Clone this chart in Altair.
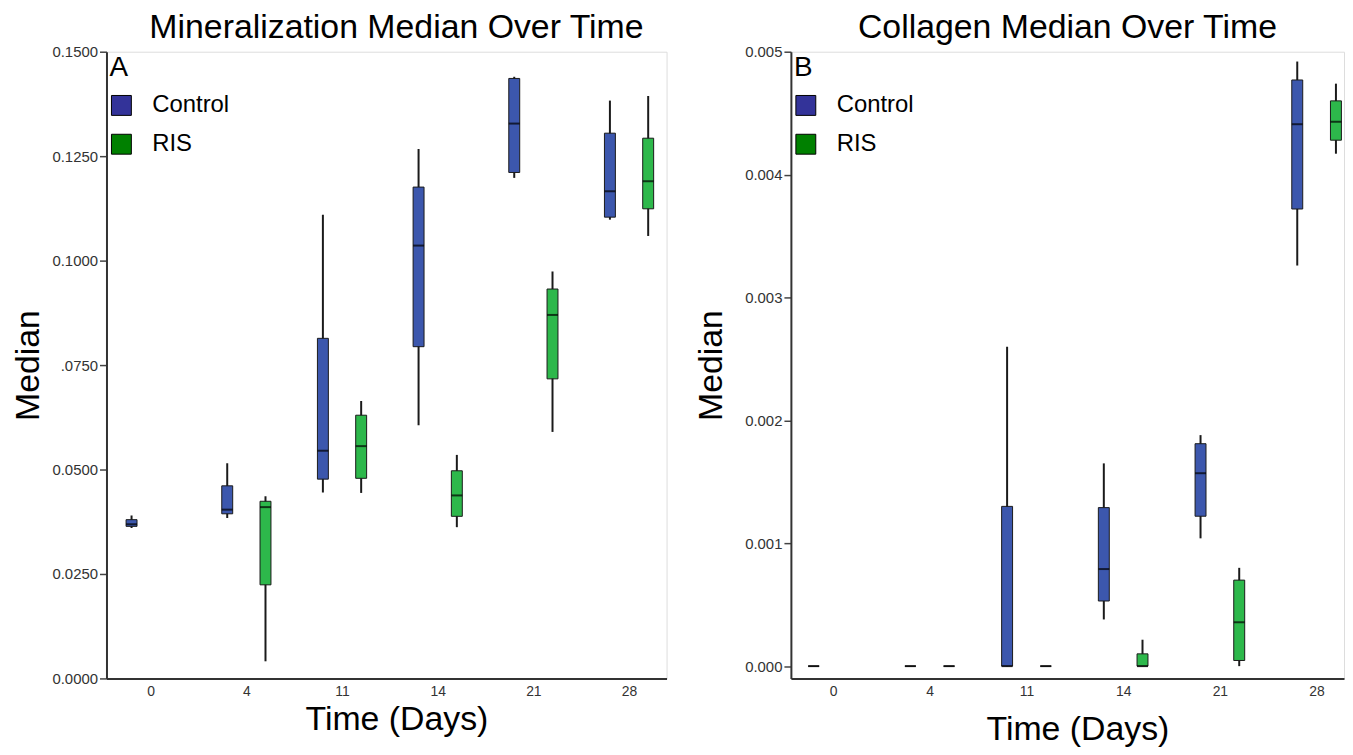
import altair as alt
import pandas as pd

DAYS = ["0", "4", "11", "14", "21", "28"]
GROUPS = ["Control", "RIS"]
BOX_COLORS = ["#3c57ad", "#2db84b"]
LEGEND_COLORS = ["#333399", "#008000"]
FONT = "Liberation Sans"

# ---- Panel A: Mineralization (min, q1, median, q3, max) ----
MIN_CTRL_DAYS = ["0", "4", "11", "14", "21", "28"]
min_ctrl_lo = [0.0360, 0.0384, 0.0445, 0.0606, 0.1198, 0.1098]
min_ctrl_q1 = [0.0364, 0.0394, 0.0477, 0.0794, 0.1211, 0.1104]
min_ctrl_med = [0.0369, 0.0404, 0.0545, 0.1036, 0.1328, 0.1166]
min_ctrl_q3 = [0.0380, 0.0461, 0.0814, 0.1176, 0.1436, 0.1305]
min_ctrl_hi = [0.0390, 0.0515, 0.1110, 0.1267, 0.1440, 0.1383]

MIN_RIS_DAYS = ["4", "11", "14", "21", "28"]
min_ris_lo = [0.0041, 0.0444, 0.0362, 0.0590, 0.1059]
min_ris_q1 = [0.0224, 0.0479, 0.0388, 0.0717, 0.1124]
min_ris_med = [0.0410, 0.0556, 0.0438, 0.0870, 0.1190]
min_ris_q3 = [0.0424, 0.0630, 0.0497, 0.0932, 0.1293]
min_ris_hi = [0.0436, 0.0664, 0.0535, 0.0974, 0.1394]

# ---- Panel B: Collagen ----
COL_CTRL_DAYS = ["0", "4", "11", "14", "21", "28"]
col_ctrl_lo = [0.0, 0.0, 0.0, 0.00038, 0.00104, 0.00326]
col_ctrl_q1 = [0.0, 0.0, 0.0, 0.00053, 0.00122, 0.00372]
col_ctrl_med = [0.0, 0.0, 0.0, 0.00079, 0.00157, 0.00441]
col_ctrl_q3 = [0.0, 0.0, 0.0013, 0.00129, 0.00181, 0.00477]
col_ctrl_hi = [0.0, 0.0, 0.0026, 0.00165, 0.00188, 0.00492]

COL_RIS_DAYS = ["4", "11", "14", "21", "28"]
col_ris_lo = [0.0, 0.0, 0.0, 0.0, 0.00417]
col_ris_q1 = [0.0, 0.0, 0.0, 0.000046, 0.00428]
col_ris_med = [0.0, 0.0, 0.0, 0.000357, 0.00443]
col_ris_q3 = [0.0, 0.0, 0.0001, 0.0007, 0.00460]
col_ris_hi = [0.0, 0.0, 0.000215, 0.0008, 0.00474]

MIN_Y_VALUES = [0.0, 0.025, 0.05, 0.075, 0.1, 0.125, 0.15]
MIN_Y_LABELS = ["0.0000", "0.0250", "0.0500", ".0750", "0.1000", "0.1250", "0.1500"]
COL_Y_VALUES = [0.0, 0.001, 0.002, 0.003, 0.004, 0.005]
COL_Y_LABELS = ["0.000", "0.001", "0.002", "0.003", "0.004", "0.005"]


def build(series):
    rows = []
    for group, days, lo, q1, med, q3, hi in series:
        for i, d in enumerate(days):
            rows.append(dict(day=d, idx=DAYS.index(d), group=group,
                             lo=lo[i], q1=q1[i], med=med[i], q3=q3[i], hi=hi[i]))
    return pd.DataFrame(rows)


df_min = build([
    ("Control", MIN_CTRL_DAYS, min_ctrl_lo, min_ctrl_q1, min_ctrl_med, min_ctrl_q3, min_ctrl_hi),
    ("RIS", MIN_RIS_DAYS, min_ris_lo, min_ris_q1, min_ris_med, min_ris_q3, min_ris_hi),
])
df_col = build([
    ("Control", COL_CTRL_DAYS, col_ctrl_lo, col_ctrl_q1, col_ctrl_med, col_ctrl_q3, col_ctrl_hi),
    ("RIS", COL_RIS_DAYS, col_ris_lo, col_ris_q1, col_ris_med, col_ris_q3, col_ris_hi),
])


def js_list(items):
    return "[" + ",".join("'" + s + "'" for s in items) + "]"


def panel(df, title, letter, ydomain, yvalues, ylabels, xdomain, width,
          ytitle_pad, xtitle_pad, title_dx):
    ystep = yvalues[1] - yvalues[0]
    base = alt.Chart(df).transform_calculate(
        pos="datum.idx + (datum.group == 'Control' ? -0.2 : 0.2)",
        boxcol="datum.group == '" + GROUPS[0] + "' ? '" + BOX_COLORS[0] + "' : '" + BOX_COLORS[1] + "'",
    )
    xenc = alt.X(
        "pos:Q",
        scale=alt.Scale(domain=xdomain, nice=False, zero=False),
        axis=alt.Axis(
            values=list(range(len(DAYS))),
            labelExpr=js_list(DAYS) + "[round(datum.value)]",
            title="Time (Days)", grid=False, ticks=False,
            labelFont=FONT, labelFontSize=14, labelColor="#333",
            labelPadding=6, titleFont=FONT, titleFontSize=34,
            titleFontWeight="normal", titleColor="black",
            titlePadding=xtitle_pad, titleX=width / 2 + 10,
            domainColor="#333", domainWidth=2,
        ),
    )
    yaxis = alt.Axis(
        values=yvalues,
        labelExpr=js_list(ylabels) + "[round(datum.value/" + repr(ystep) + ")]",
        title="Median", grid=False, tickSize=7, tickColor="#444", tickWidth=1.5,
        labelFont=FONT, labelFontSize=15, labelColor="#333", labelPadding=2,
        titleFont=FONT, titleFontSize=34, titleFontWeight="normal",
        titleColor="black", titlePadding=ytitle_pad,
        domainColor="#333", domainWidth=2,
    )
    yscale = alt.Scale(domain=ydomain, nice=False, zero=False)

    whisker = base.mark_rule(color="#1a1a1a", strokeWidth=2).encode(
        x=xenc, y=alt.Y("lo:Q", scale=yscale, axis=yaxis), y2="hi:Q"
    )
    box = base.mark_bar(size=11, stroke="#1a1a1a", strokeWidth=1, orient="vertical").encode(
        x=xenc,
        y=alt.Y("q1:Q", scale=yscale, axis=yaxis),
        y2="q3:Q",
        fill=alt.Fill("boxcol:N", scale=None),
    )
    med = base.mark_tick(color="black", thickness=2, size=11, orient="horizontal").encode(
        x=xenc, y=alt.Y("med:Q", scale=yscale, axis=yaxis)
    )
    leg = base.transform_filter("false").mark_square(size=400).encode(
        x=xenc,
        y=alt.Y("med:Q", scale=yscale, axis=yaxis),
        color=alt.Color(
            "group:N",
            scale=alt.Scale(domain=GROUPS, range=LEGEND_COLORS),
            legend=alt.Legend(
                orient="none", legendX=3, legendY=2, title=letter,
                titleFont=FONT, titleFontSize=28, titleFontWeight="normal",
                titleColor="black", titlePadding=12,
                labelFont=FONT, labelFontSize=24, labelColor="black",
                symbolType="square", symbolSize=400, symbolOpacity=1,
                symbolStrokeColor="black", symbolStrokeWidth=1,
                labelOffset=19, rowPadding=15, padding=0, offset=0,
            ),
        ),
    )
    return alt.layer(whisker, box, med, leg).properties(
        width=width, height=630,
        title=alt.TitleParams(
            title, font=FONT, fontSize=34, fontWeight="normal", color="black",
            offset=0, frame="group", anchor="middle", dx=title_dx,
        ),
    )


left = panel(df_min, "Mineralization Median Over Time", "A", [0.0, 0.15],
             MIN_Y_VALUES, MIN_Y_LABELS, [-0.41, 5.34], 563, 6, 4, 10)
right = panel(df_col, "Collagen Median Over Time", "B", [-0.0001, 0.005],
              COL_Y_VALUES, COL_Y_LABELS, [-0.384, 5.232], 556, 16, 14, 0)

chart = (
    alt.hconcat(left, right, spacing=26)
    .resolve_scale(x="independent", y="independent", color="independent")
    .resolve_legend(color="independent")
    .properties(padding={"left": 3, "top": 0, "right": 0, "bottom": 0})
    .configure_view(fill="#f0f0f0", stroke="#777", strokeWidth=1.5)
    .configure(background="white")
)

chart.save("out.html", embed_options={"renderer": "svg", "actions": False})
